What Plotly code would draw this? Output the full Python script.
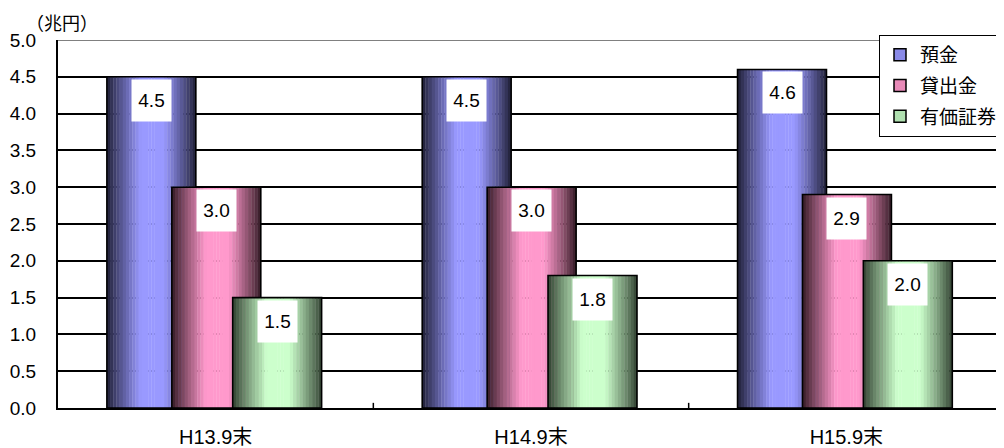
import plotly.graph_objects as go

categories = ["H13.9末", "H14.9末", "H15.9末"]
series_names = ["預金", "貸出金", "有価証券"]
deposits = [4.5, 4.5, 4.6]
loans = [3.0, 3.0, 2.9]
securities = [1.5, 1.8, 2.0]
y_ticks = [0.0, 0.5, 1.0, 1.5, 2.0, 2.5, 3.0, 3.5, 4.0, 4.5, 5.0]

series_values = [deposits, loans, securities]
light_colors = [(153, 153, 255), (255, 153, 204), (204, 255, 204)]
dark_colors = [(30, 30, 52), (50, 26, 36), (48, 64, 48)]
mid_colors = ["#8a8ae8", "#e88ab8", "#b0e0b0"]
offsets = [-0.345, -0.139, 0.054]
bar_w = 0.282
n_slices = 28
FONT = "Liberation Sans, Arial, Noto Sans CJK JP"
CJK = "Noto Sans CJK JP, Liberation Sans"

# page body has an 8px margin; compensate so the plot lands where the reference has it
L, R, T, B, W, H = 50, 0, 32, 40, 996, 440
PW, PH = W - L - R, H - T - B

x_idx = list(range(len(categories)))
fig = go.Figure()


def shade(t, light, dark):
    if t < 0.38:
        f = t / 0.38
    elif t > 0.64:
        f = (1 - t) / 0.36
    else:
        f = 1.0
    f = max(0.0, min(1.0, f)) ** 0.9
    return "rgb(%d,%d,%d)" % tuple(int(dark[k] + (light[k] - dark[k]) * f) for k in range(3))


for s, (name, vals) in enumerate(zip(series_names, series_values)):
    sw = bar_w / n_slices
    for i in range(n_slices):
        t = (i + 0.5) / n_slices
        fig.add_trace(go.Bar(
            x=x_idx, y=vals, width=sw * 1.1, offset=offsets[s] + i * sw,
            marker=dict(color=shade(t, light_colors[s], dark_colors[s]), line=dict(width=0)),
            showlegend=False, hoverinfo="skip"))
    fig.add_trace(go.Bar(
        x=x_idx, y=vals, width=bar_w, offset=offsets[s],
        marker=dict(color="rgba(0,0,0,0)", line=dict(color="black", width=1.6)),
        showlegend=False, hoverinfo="skip"))
    # legend entry
    fig.add_trace(go.Bar(
        x=[None], y=[None], name=name, legendgroup=name,
        marker=dict(color=mid_colors[s], line=dict(color="black", width=1.5))))
    for xi, v in zip(x_idx, vals):
        fig.add_annotation(
            x=xi + offsets[s] + bar_w / 2, y=v, xref="x", yref="y",
            text="%.1f" % v, showarrow=False, yanchor="middle", yshift=-23.5,
            bgcolor="white", width=37, height=39,
            font=dict(family=FONT, size=19, color="black"))

fig.add_annotation(
    x=(24 - 58) / PW, y=(408 - 22) / PH, xref="paper", yref="paper",
    text="（兆円）", showarrow=False, xanchor="left", yanchor="middle",
    font=dict(family=CJK, size=18, color="black"))

fig.update_layout(
    width=W, height=H,
    margin=dict(l=L, r=R, t=T, b=B, autoexpand=False),
    barmode="overlay",
    plot_bgcolor="white", paper_bgcolor="white",
    font=dict(family=FONT, size=19, color="black"),
    legend=dict(
        x=(1003 - 58) / PW, xanchor="right", y=(408 - 35) / PH, yanchor="top",
        bgcolor="white", bordercolor="black", borderwidth=1,
        font=dict(family=CJK, size=19),
        traceorder="grouped", tracegroupgap=3,
        itemwidth=30,
    ),
    xaxis=dict(
        range=[-0.5, 2.5], tickmode="array", tickvals=x_idx, ticktext=categories,
        showgrid=False, showline=True, linecolor="black", linewidth=2,
        ticks="", ticklabelstandoff=10, automargin=False,
        tickfont=dict(family=FONT, size=20),
        zeroline=False,
    ),
    yaxis=dict(
        range=[0, 5], tickmode="array", tickvals=y_ticks,
        ticktext=["%.1f" % v for v in y_ticks],
        showgrid=True, gridcolor="black", gridwidth=1.6,
        showline=True, linecolor="black", linewidth=2,
        ticks="inside", ticklen=4, tickcolor="black", ticklabelstandoff=16,
        automargin=False,
        tickfont=dict(family=FONT, size=19),
        zeroline=False,
    ),
)

# top border line (grey) over the 5.0 gridline
fig.add_shape(type="line", xref="paper", yref="y", x0=0, x1=1, y0=5, y1=5,
              line=dict(color="#808080", width=2), layer="above")
# category separator ticks on x axis
for b in [0.5, 1.5]:
    fig.add_shape(type="line", xref="x", yref="y", x0=b, x1=b, y0=0, y1=0.07,
                  line=dict(color="black", width=1.5))

fig.write_html("out.html")
